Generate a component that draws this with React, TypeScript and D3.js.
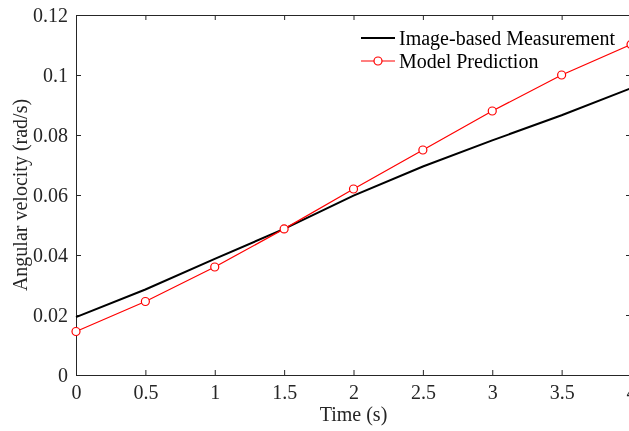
import React, { useEffect, useRef } from "react";
import * as d3 from "d3";

const times = [0, 0.5, 1, 1.5, 2, 2.5, 3, 3.5, 4];
const measured = [0.0193, 0.0285, 0.0387, 0.0487, 0.0598, 0.0695, 0.0782, 0.0866, 0.0956];
const predicted = [0.0145, 0.0245, 0.036, 0.0487, 0.062, 0.075, 0.088, 0.1, 0.1102];
const xTicks = [0, 0.5, 1, 1.5, 2, 2.5, 3, 3.5, 4];
const yTicks = [0, 0.02, 0.04, 0.06, 0.08, 0.1, 0.12];

const App = () => {
  const svgRef = useRef<SVGSVGElement>(null);

  useEffect(() => {
    const width = 629;
    const height = 431;
    const margin = { top: 15, right: -2, bottom: 56, left: 76 };
    const font = "'Liberation Serif', 'Times New Roman', serif";
    const axisColor = "#262626";
    const fs = "20px";

    const svg = d3.select(svgRef.current)
      .attr("width", width)
      .attr("height", height)
      .style("display", "block")
      .style("font-family", font);
    svg.selectAll("*").remove();

    const x = d3.scaleLinear().domain([0, 4]).range([margin.left, width - margin.right]);
    const y = d3.scaleLinear().domain([0, 0.12]).range([height - margin.bottom, margin.top]);

    const fmt = (d: number) => String(d);

    const bottom = svg.append("g")
      .attr("transform", `translate(0,${y(0)})`)
      .call(d3.axisBottom(x).tickValues(xTicks).tickFormat(fmt as any).tickSizeInner(-5).tickSizeOuter(0).tickPadding(10));
    const top = svg.append("g")
      .attr("transform", `translate(0,${y(0.12)})`)
      .call(d3.axisTop(x).tickValues(xTicks).tickFormat(() => "").tickSizeInner(-5).tickSizeOuter(0));
    const left = svg.append("g")
      .attr("transform", `translate(${x(0)},0)`)
      .call(d3.axisLeft(y).tickValues(yTicks).tickFormat(fmt as any).tickSizeInner(-5).tickSizeOuter(0).tickPadding(8));
    const right = svg.append("g")
      .attr("transform", `translate(${x(4)},0)`)
      .call(d3.axisRight(y).tickValues(yTicks).tickFormat(() => "").tickSizeInner(-5).tickSizeOuter(0));

    [bottom, top, left, right].forEach((g) => {
      g.select(".domain").attr("stroke", axisColor).attr("stroke-width", 1);
      g.selectAll(".tick line").attr("stroke", axisColor);
      g.selectAll(".tick text")
        .attr("fill", axisColor)
        .style("font-family", font)
        .style("font-size", fs);
    });

    const line = d3.line<number>()
      .x((_, i) => x(times[i]))
      .y((d) => y(d));

    svg.append("path")
      .datum(measured)
      .attr("d", line)
      .attr("fill", "none")
      .attr("stroke", "black")
      .attr("stroke-width", 2);

    svg.append("path")
      .datum(predicted)
      .attr("d", line)
      .attr("fill", "none")
      .attr("stroke", "red")
      .attr("stroke-width", 1.2);

    svg.selectAll(".pt")
      .data(predicted)
      .join("circle")
      .attr("class", "pt")
      .attr("cx", (_, i) => x(times[i]))
      .attr("cy", (d) => y(d))
      .attr("r", 4)
      .attr("fill", "white")
      .attr("stroke", "red")
      .attr("stroke-width", 1.2);

    // axis labels
    svg.append("text")
      .attr("x", x(2))
      .attr("y", 421)
      .attr("text-anchor", "middle")
      .attr("fill", axisColor)
      .style("font-size", fs)
      .text("Time (s)");

    svg.append("text")
      .attr("transform", `translate(27,${y(0.06)}) rotate(-90)`)
      .attr("text-anchor", "middle")
      .attr("fill", axisColor)
      .style("font-size", fs)
      .text("Angular velocity (rad/s)");

    // legend
    const legend = svg.append("g").attr("transform", "translate(361,38)");
    legend.append("line")
      .attr("x1", 0).attr("x2", 34).attr("y1", 0).attr("y2", 0)
      .attr("stroke", "black").attr("stroke-width", 2);
    legend.append("text")
      .attr("x", 38).attr("y", 7)
      .attr("fill", "black")
      .style("font-size", fs)
      .text("Image-based Measurement");
    legend.append("line")
      .attr("x1", 0).attr("x2", 34).attr("y1", 23).attr("y2", 23)
      .attr("stroke", "red").attr("stroke-width", 1.2);
    legend.append("circle")
      .attr("cx", 17).attr("cy", 23).attr("r", 4)
      .attr("fill", "white").attr("stroke", "red").attr("stroke-width", 1.2);
    legend.append("text")
      .attr("x", 38).attr("y", 30)
      .attr("fill", "black")
      .style("font-size", fs)
      .text("Model Prediction");
  }, []);

  return (
    <div style={{ position: "fixed", left: 0, top: 0, width: 629, height: 431, overflow: "hidden" }}>
      <svg ref={svgRef} />
    </div>
  );
};

export default App;
